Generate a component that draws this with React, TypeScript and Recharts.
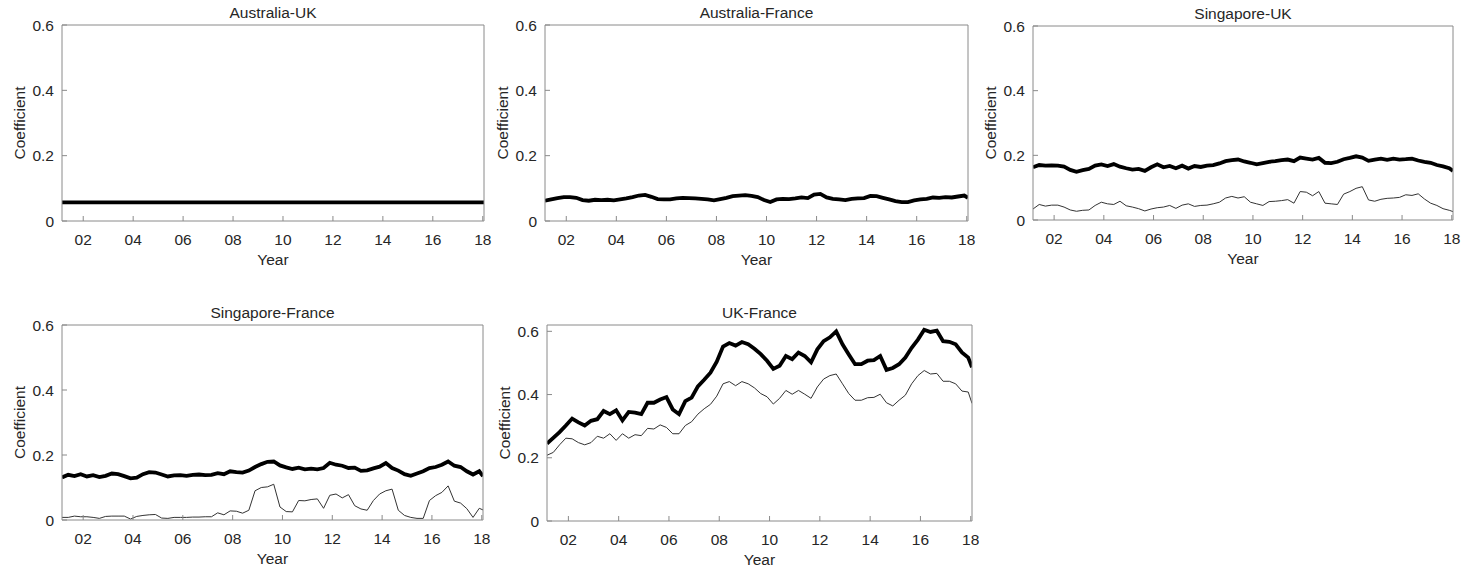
import React from "react";
import { LineChart, Line, XAxis, YAxis, Label } from "recharts";

// quarterly sample dates (decimal years)
const years = [
  2001.15, 2001.4, 2001.65, 2001.9, 2002.15, 2002.4, 2002.65, 2002.9, 2003.15, 2003.4,
  2003.65, 2003.9, 2004.15, 2004.4, 2004.65, 2004.9, 2005.15, 2005.4, 2005.65, 2005.9,
  2006.15, 2006.4, 2006.65, 2006.9, 2007.15, 2007.4, 2007.65, 2007.9, 2008.15, 2008.4,
  2008.65, 2008.9, 2009.15, 2009.4, 2009.65, 2009.9, 2010.15, 2010.4, 2010.65, 2010.9,
  2011.15, 2011.4, 2011.65, 2011.9, 2012.15, 2012.4, 2012.65, 2012.9, 2013.15, 2013.4,
  2013.65, 2013.9, 2014.15, 2014.4, 2014.65, 2014.9, 2015.15, 2015.4, 2015.65, 2015.9,
  2016.15, 2016.4, 2016.65, 2016.9, 2017.15, 2017.4, 2017.65, 2017.9, 2018.05,
];
const yearTicks = [2002, 2004, 2006, 2008, 2010, 2012, 2014, 2016, 2018];
const coefTicks = [0, 0.2, 0.4, 0.6];

const ausUkYears = [2001.15, 2018.05];
const ausUkBold = [0.057, 0.057];

const ausFrBold = [
  0.062, 0.066, 0.07, 0.073, 0.073, 0.071, 0.064, 0.062, 0.065, 0.064,
  0.065, 0.063, 0.066, 0.069, 0.073, 0.078, 0.08, 0.074, 0.067, 0.066,
  0.066, 0.069, 0.071, 0.07, 0.069, 0.068, 0.066, 0.063, 0.067, 0.071,
  0.076, 0.078, 0.079, 0.077, 0.073, 0.064, 0.058, 0.066, 0.068, 0.067,
  0.069, 0.072, 0.07, 0.081, 0.083, 0.072, 0.068, 0.066, 0.064, 0.068,
  0.069, 0.07, 0.077, 0.076, 0.071, 0.066, 0.061, 0.058, 0.058, 0.063,
  0.066, 0.068, 0.072, 0.071, 0.073, 0.072, 0.075, 0.078, 0.071,
];

const sgUkBold = [
  0.163, 0.17, 0.168, 0.169, 0.168, 0.165, 0.155, 0.149, 0.154, 0.158,
  0.168, 0.172, 0.167, 0.173, 0.165, 0.16, 0.156, 0.158, 0.152, 0.163,
  0.172, 0.163, 0.167, 0.16, 0.168, 0.159, 0.167, 0.164, 0.168, 0.17,
  0.175, 0.182, 0.185, 0.187, 0.181, 0.177, 0.172, 0.176, 0.18, 0.182,
  0.185, 0.187, 0.182, 0.193, 0.19, 0.187, 0.192, 0.177, 0.176, 0.18,
  0.188, 0.192, 0.197, 0.193, 0.183, 0.187, 0.19, 0.186, 0.19, 0.187,
  0.188, 0.19, 0.184, 0.18, 0.177, 0.17, 0.166, 0.16, 0.152,
];
const sgUkThin = [
  0.034, 0.048, 0.043, 0.046, 0.046, 0.04, 0.031, 0.027, 0.03, 0.031,
  0.045, 0.055, 0.05, 0.048, 0.058, 0.044, 0.04, 0.035, 0.028, 0.034,
  0.038, 0.04, 0.045, 0.036, 0.046, 0.05, 0.042, 0.045, 0.046, 0.05,
  0.055, 0.068, 0.073, 0.068, 0.072, 0.055, 0.05, 0.045, 0.057, 0.058,
  0.06, 0.063, 0.052, 0.088, 0.086, 0.075, 0.088, 0.052, 0.05, 0.048,
  0.08, 0.088, 0.098, 0.103, 0.062, 0.058, 0.064, 0.067, 0.068, 0.07,
  0.078, 0.076, 0.081, 0.065, 0.052, 0.045, 0.035, 0.03, 0.026,
];

const sgFrBold = [
  0.131, 0.139, 0.135, 0.141, 0.134, 0.138, 0.132, 0.136, 0.143, 0.141,
  0.135, 0.128, 0.13, 0.141, 0.147, 0.146, 0.14, 0.134, 0.137, 0.138,
  0.136, 0.139, 0.14, 0.138, 0.139, 0.144, 0.141, 0.15, 0.147, 0.146,
  0.152, 0.163, 0.172, 0.179, 0.18, 0.168, 0.162, 0.157, 0.161, 0.156,
  0.158, 0.156, 0.16, 0.176, 0.17, 0.167, 0.16, 0.161, 0.151, 0.153,
  0.159, 0.164, 0.175, 0.16, 0.152, 0.141, 0.136, 0.143, 0.15, 0.16,
  0.163, 0.17, 0.18, 0.167, 0.163, 0.15, 0.14, 0.15, 0.135,
];
const sgFrThin = [
  0.008, 0.008, 0.012, 0.01, 0.01, 0.008, 0.005, 0.011, 0.012, 0.012,
  0.012, 0.003, 0.011, 0.014, 0.016, 0.017, 0.006, 0.005, 0.008, 0.008,
  0.008, 0.009, 0.009, 0.01, 0.01, 0.022, 0.016, 0.028, 0.027, 0.021,
  0.03, 0.09, 0.1, 0.102, 0.11, 0.04, 0.026, 0.025, 0.06, 0.059,
  0.063, 0.065, 0.036, 0.076, 0.08, 0.068, 0.078, 0.044, 0.034, 0.03,
  0.06, 0.08, 0.09, 0.095, 0.03, 0.014, 0.008, 0.005, 0.005, 0.06,
  0.075, 0.085, 0.105, 0.058, 0.052, 0.035, 0.008, 0.036, 0.031,
];

const ukFrBold = [
  0.245, 0.263, 0.281, 0.302, 0.324, 0.312, 0.302, 0.317, 0.322, 0.348,
  0.338, 0.35, 0.318, 0.345, 0.343, 0.338, 0.374, 0.374, 0.384, 0.392,
  0.353, 0.338, 0.379, 0.39, 0.426, 0.447, 0.469, 0.504, 0.552, 0.563,
  0.555, 0.566, 0.559, 0.545, 0.528, 0.507, 0.481, 0.491, 0.522, 0.512,
  0.533, 0.522, 0.502, 0.543, 0.569, 0.581, 0.6, 0.559, 0.527, 0.496,
  0.496, 0.507, 0.509, 0.522, 0.478, 0.484, 0.496, 0.517, 0.548, 0.574,
  0.605, 0.598, 0.602, 0.569, 0.567, 0.559, 0.533, 0.517, 0.486,
];
const ukFrThin = [
  0.208, 0.217, 0.241, 0.262, 0.26, 0.248, 0.241, 0.248, 0.268, 0.262,
  0.276, 0.255, 0.276, 0.262, 0.273, 0.27, 0.293, 0.291, 0.304, 0.296,
  0.276, 0.276, 0.302, 0.314, 0.338, 0.355, 0.369, 0.395, 0.434, 0.441,
  0.428, 0.441, 0.434, 0.421, 0.403, 0.393, 0.37, 0.388, 0.413, 0.401,
  0.413, 0.401, 0.388, 0.424, 0.449, 0.46, 0.465, 0.434, 0.403, 0.382,
  0.382, 0.39, 0.391, 0.401, 0.374, 0.364, 0.382, 0.398, 0.434, 0.46,
  0.476, 0.465, 0.467, 0.442, 0.442, 0.434, 0.411, 0.408, 0.372,
];

const FONT = "'Liberation Sans', Arial, sans-serif";
const TEXT = "#262626";
const AXIS = "#8a8a8a";
const FS = 15.5;
const X_DOMAIN: [number, number] = [2001.15, 2018.05];

const tickStyle = { fill: TEXT, fontSize: FS, fontFamily: FONT };

const fmtYear = (v: number) => String(v - 2000).padStart(2, "0");
const fmtCoef = (v: number) => (v === 0 ? "0" : v.toFixed(1));

type PanelProps = {
  title: string;
  left: number;
  top: number;
  plotW: number;
  plotH: number;
  yMax: number;
  xs: number[];
  bold: number[];
  thin?: number[];
};

const Panel = ({ title, left, top, plotW, plotH, yMax, xs, bold, thin }: PanelProps) => {
  const data = xs.map((t, i) => ({ t, bold: bold[i], thin: thin ? thin[i] : null }));
  return (
    <div style={{ position: "absolute", left, top }}>
      <LineChart
        width={plotW + 72}
        height={plotH + 75}
        data={data}
        margin={{ top: 24, right: 9, bottom: 0, left: 0 }}
      >
        <XAxis
          dataKey="t"
          type="number"
          domain={X_DOMAIN}
          allowDataOverflow
          ticks={yearTicks}
          interval={0}
          tickFormatter={fmtYear}
          tick={tickStyle}
          tickSize={-5}
          tickMargin={18}
          axisLine={{ stroke: AXIS }}
          tickLine={{ stroke: AXIS }}
          height={50}
        >
          <Label value="Year" position="insideBottom" offset={6} fill={TEXT} fontSize={FS} fontFamily={FONT} />
        </XAxis>
        <XAxis
          xAxisId="top"
          orientation="top"
          dataKey="t"
          type="number"
          domain={X_DOMAIN}
          allowDataOverflow
          ticks={yearTicks}
          interval={0}
          tick={false}
          tickSize={-5}
          axisLine={{ stroke: AXIS }}
          tickLine={{ stroke: AXIS }}
          height={1}
        >
          <Label value={title} position="top" offset={6} fill={TEXT} fontSize={FS} fontFamily={FONT} />
        </XAxis>
        <YAxis
          type="number"
          domain={[0, yMax]}
          allowDataOverflow
          ticks={coefTicks}
          interval={0}
          tickFormatter={fmtCoef}
          tick={tickStyle}
          tickSize={-5}
          tickMargin={13}
          axisLine={{ stroke: AXIS }}
          tickLine={{ stroke: AXIS }}
          width={62}
        >
          <Label
            value="Coefficient"
            angle={-90}
            position="insideLeft"
            offset={19}
            fill={TEXT}
            fontSize={FS}
            fontFamily={FONT}
            style={{ textAnchor: "middle" }}
          />
        </YAxis>
        <YAxis
          yAxisId="right"
          orientation="right"
          type="number"
          domain={[0, yMax]}
          allowDataOverflow
          ticks={coefTicks}
          interval={0}
          tick={false}
          tickSize={-5}
          axisLine={{ stroke: AXIS }}
          tickLine={{ stroke: AXIS }}
          width={1}
        />
        {thin && (
          <Line
            dataKey="thin"
            type="linear"
            stroke="#333333"
            strokeWidth={1}
            dot={false}
            isAnimationActive={false}
          />
        )}
        <Line
          dataKey="bold"
          type="linear"
          stroke="#000000"
          strokeWidth={3.8}
          dot={false}
          isAnimationActive={false}
        />
      </LineChart>
    </div>
  );
};

export default function App() {
  return (
    <div
      style={{
        position: "absolute",
        left: 0,
        top: 0,
        width: 1473,
        height: 573,
        background: "#ffffff",
      }}
    >
      <style>{`.recharts-text { font-family: ${FONT}; font-size: ${FS}px; }`}</style>
      <Panel title="Australia-UK" left={0} top={0} plotW={422} plotH={196} yMax={0.6} xs={ausUkYears} bold={ausUkBold} />
      <Panel title="Australia-France" left={483} top={0} plotW={423} plotH={196} yMax={0.6} xs={years} bold={ausFrBold} />
      <Panel title="Singapore-UK" left={971} top={1} plotW={420} plotH={194} yMax={0.6} xs={years} bold={sgUkBold} thin={sgUkThin} />
      <Panel title="Singapore-France" left={0} top={300} plotW={421} plotH={195} yMax={0.6} xs={years} bold={sgFrBold} thin={sgFrThin} />
      <Panel title="UK-France" left={485} top={300} plotW={425} plotH={196} yMax={0.62} xs={years} bold={ukFrBold} thin={ukFrThin} />
    </div>
  );
}
